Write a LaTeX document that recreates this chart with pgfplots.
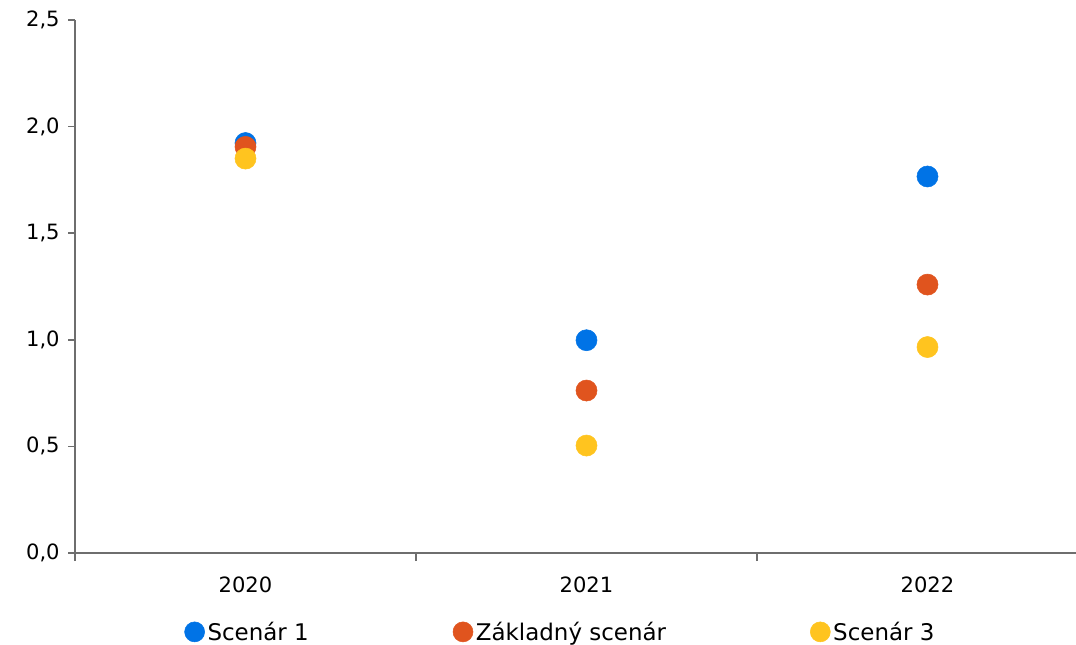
\documentclass[border=0pt]{standalone}
\usepackage{pgfplots}
\pgfplotsset{compat=1.18}
\usepackage{fontspec}
\setmainfont{DejaVu Sans}
\definecolor{sc1}{RGB}{0,115,230}
\definecolor{sc2}{RGB}{224,84,30}
\definecolor{sc3}{RGB}{255,196,31}
\definecolor{axgray}{RGB}{110,110,110}
\begin{document}
\begin{tikzpicture}
\useasboundingbox (-56.25pt,-68.25pt) rectangle (750.75pt,414.75pt);
\clip (-56.25pt,-68.25pt) rectangle (750.75pt,414.75pt);
\begin{axis}[
  at={(0pt,0pt)}, anchor=south west,
  scale only axis, width=750.75pt, height=399.75pt,
  xmin=-0.5, xmax=2.4355, ymin=0, ymax=2.5,
  axis x line=bottom, axis y line=left,
  axis line style={-, draw=axgray, line width=1.2pt},
  tick align=outside,
  ytick={0,0.5,1,1.5,2,2.5},
  major tick length=5pt,
  ytick style={draw=axgray, line width=1.2pt},
  yticklabel style={font=\fontsize{15.8}{18}\selectfont, xshift=-3pt},
  /pgf/number format/.cd, fixed, fixed zerofill, precision=1, use comma, assume math mode=true,
  /pgfplots/.cd,
  xtick={0,1,2}, xticklabels={2020,2021,2022},
  xtick style={draw=none},
  xticklabel style={font=\fontsize{15.8}{18}\selectfont, yshift=-9pt},
  extra x ticks={-0.5,0.5,1.5},
  extra x tick labels={},
  extra x tick style={xtick style={draw=axgray, line width=1.2pt}, major tick length=6pt},
  legend columns=3,
  legend image code/.code={\fill[#1] (0pt,0pt) circle (7.5pt);},
  legend style={at={(axis description cs:0.105,-0.148)}, anchor=west, draw=none, fill=none,
    font=\fontsize{17.2}{20}\selectfont,
    /tikz/every even column/.append style={column sep=106pt},
    /tikz/every odd column/.append style={column sep=0pt}},
]
\addplot[only marks, mark=*, mark size=7.9pt, color=sc1, mark options={draw=none, fill=sc1}] coordinates {(0,1.923) (1,0.998) (2,1.766)};
\addlegendentry{Scenár 1}
\addplot[only marks, mark=*, mark size=7.9pt, color=sc2, mark options={draw=none, fill=sc2}] coordinates {(0,1.905) (1,0.762) (2,1.259)};
\addlegendentry{Základný scenár}
\addplot[only marks, mark=*, mark size=7.9pt, color=sc3, mark options={draw=none, fill=sc3}] coordinates {(0,1.850) (1,0.504) (2,0.966)};
\addlegendentry{Scenár 3}
\end{axis}
\end{tikzpicture}
\end{document}
